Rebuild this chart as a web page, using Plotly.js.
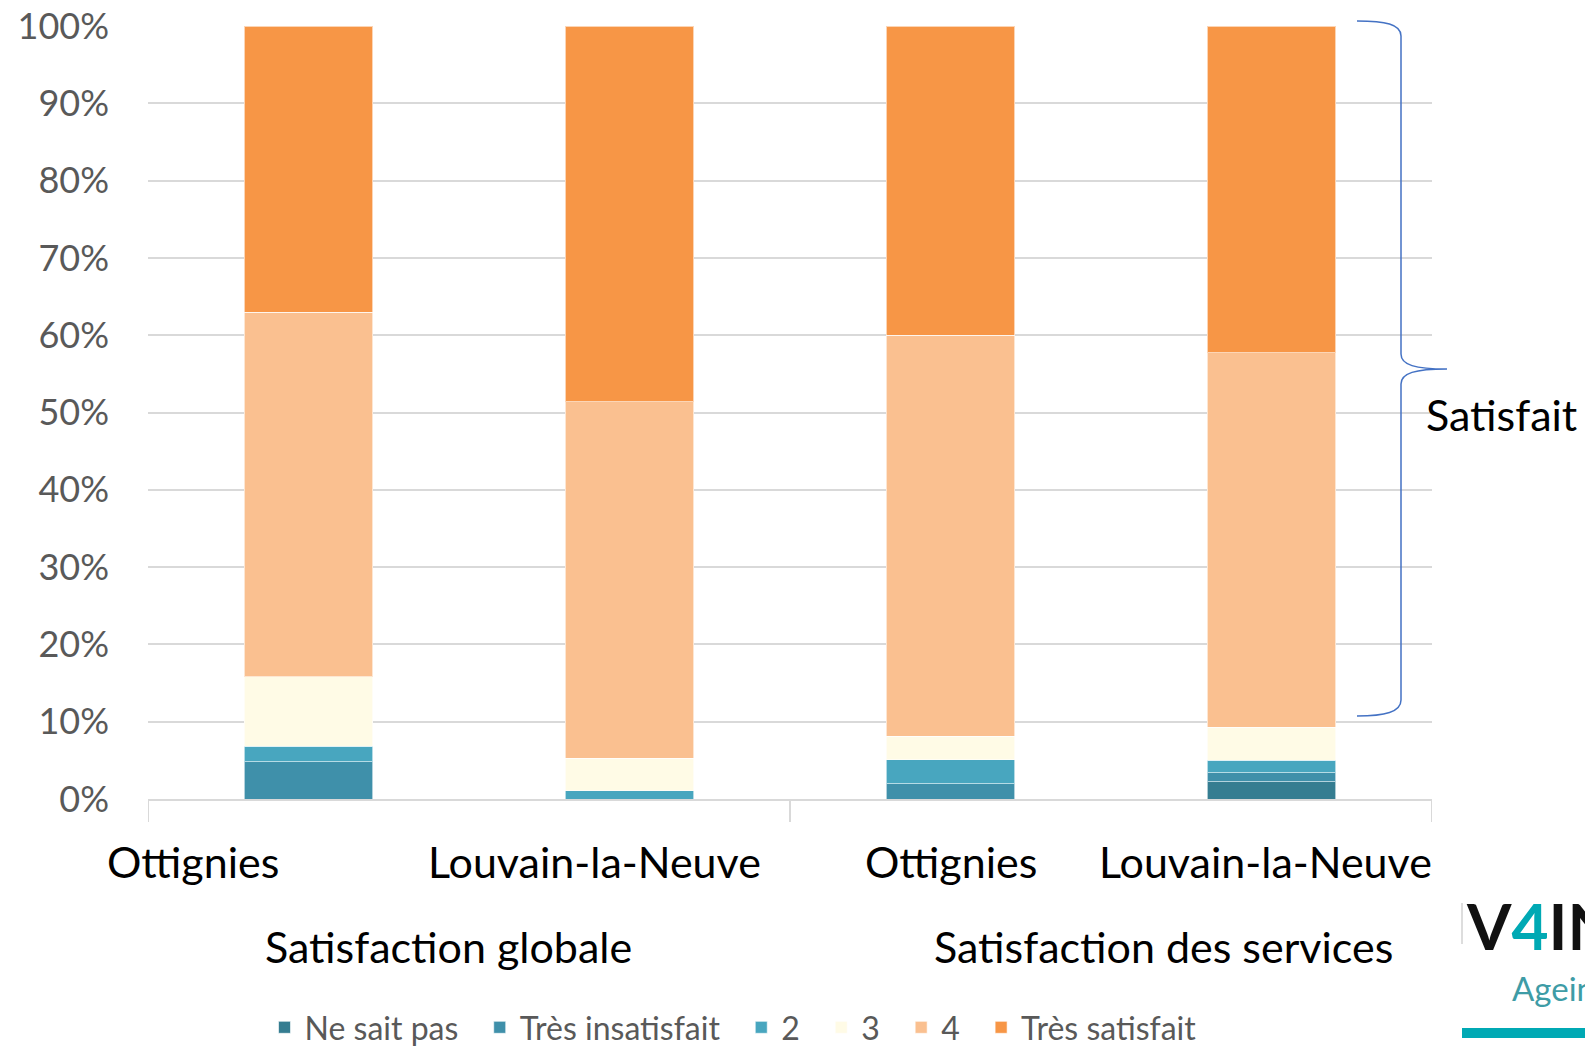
<!DOCTYPE html>
<html>
<head>
<meta charset="utf-8">
<script src="https://cdn.plot.ly/plotly-3.0.1.min.js"></script>
<style>
  html, body { margin: 0; padding: 0; background: #fff; }
  #chart { width: 1585px; height: 1049px; }
</style>
</head>
<body>
<div id="chart"></div>
<script>
/* Chart data (percent of respondents) */
let cities = ["Ottignies", "Louvain-la-Neuve", "Ottignies", "Louvain-la-Neuve"];
let groups = ["Satisfaction globale", "Satisfaction des services"];
let seriesNames = ["Ne sait pas", "Très insatisfait", "2", "3", "4", "Très satisfait"];
let neSaitPas = [0, 0, 0, 2.2];
let tresInsatisfait = [4.8, 0, 2.0, 1.2];
let niveau2 = [2.0, 1.1, 3.1, 1.6];
let niveau3 = [9.0, 4.2, 3.0, 4.3];
let niveau4 = [47.2, 46.1, 51.9, 48.4];
let tresSatisfait = [37.0, 48.6, 40.0, 42.3];
let yTicks = [0, 10, 20, 30, 40, 50, 60, 70, 80, 90, 100];

let colors = ["#357d91", "#3f90aa", "#48a6bf", "#fffbe6", "#fac090", "#f79646"];

// pixel -> paper helpers (plot area is 148..1432 x 26..799)
function px(X) { return (X - 148) / 1284; }
function py(Y) { return (799 - Y) / 773; }

let xPos = cities.map((c, i) => i);
let allSeries = [neSaitPas, tresInsatisfait, niveau2, niveau3, niveau4, tresSatisfait];

// two non-breaking spaces widen the gap between legend entries
let traces = allSeries.map((vals, k) => ({
  type: "bar",
  name: k < seriesNames.length - 1 ? seriesNames[k] + "\u00a0\u00a0" : seriesNames[k],
  x: xPos,
  y: vals,
  width: 0.4,
  marker: { color: colors[k], line: { color: "rgba(255,255,255,0.6)", width: 1 } },
  hoverinfo: "name+y"
}));

// Label offsets (Excel places the city labels a bit off the bar centres)
let cityLabelX = [-0.36, 0.89, 2.0, 2.98];
let groupLabelX = [0.435, 2.663];

let annotations = [];
cities.forEach((c, i) => {
  annotations.push({
    xref: "x", yref: "paper", x: cityLabelX[i], y: py(861),
    text: c, showarrow: false, xanchor: "center", yanchor: "middle",
    font: { family: "Lato, 'Open Sans', sans-serif", size: 43, color: "#000" }
  });
});
groups.forEach((g, i) => {
  annotations.push({
    xref: "x", yref: "paper", x: groupLabelX[i], y: py(947),
    text: g, showarrow: false, xanchor: "center", yanchor: "middle",
    font: { family: "Lato, 'Open Sans', sans-serif", size: 43, color: "#000" }
  });
});
annotations.push({
  xref: "paper", yref: "paper", x: px(1424), y: py(414),
  text: "Satisfait", showarrow: false, xanchor: "left", yanchor: "middle",
  font: { family: "Lato, 'Open Sans', sans-serif", size: 43, color: "#000" }
});
// logo, cut off by the page edge
annotations.push({
  xref: "paper", yref: "paper", x: px(1464), y: py(966),
  text: "V<span style='color:#00a9b4'>4</span>IN",
  showarrow: false, xanchor: "left", yanchor: "bottom",
  font: { family: "Lato, sans-serif", size: 64, weight: 700, color: "#111" }
});
annotations.push({
  xref: "paper", yref: "paper", x: px(1510), y: py(966),
  text: "Ageing", showarrow: false, xanchor: "left", yanchor: "top",
  font: { family: "Lato, sans-serif", size: 33, color: "#3e9ca6" }
});

let shapes = [];
// group dividers under the axis
[-0.5, 1.5, 3.5].forEach(xv => {
  shapes.push({
    type: "line", xref: "x", yref: "paper", x0: xv, x1: xv, y0: 0, y1: py(822),
    line: { color: "#d9d9d9", width: 2 }
  });
});
// curly brace for "Satisfait"
let bx0 = px(1357), bx1 = px(1401), bx2 = px(1447);
let by0 = py(21), byM = py(369), by1 = py(716);
let brace = "M " + bx0 + "," + by0 +
  " C " + px(1385) + "," + by0 + " " + bx1 + "," + py(24) + " " + bx1 + "," + py(36) +
  " L " + bx1 + "," + py(354) +
  " C " + bx1 + "," + py(365) + " " + px(1415) + "," + byM + " " + bx2 + "," + byM +
  " C " + px(1415) + "," + byM + " " + bx1 + "," + py(373) + " " + bx1 + "," + py(384) +
  " L " + bx1 + "," + py(700) +
  " C " + bx1 + "," + py(712) + " " + px(1385) + "," + by1 + " " + bx0 + "," + by1;
shapes.push({
  type: "path", xref: "paper", yref: "paper", path: brace,
  line: { color: "#4472c4", width: 1.5 }
});
// logo bar
shapes.push({
  type: "rect", xref: "paper", yref: "paper",
  x0: px(1462), x1: px(1600), y0: py(1028), y1: py(1038),
  fillcolor: "#00a9b4", line: { width: 0 }
});
shapes.push({
  type: "line", xref: "paper", yref: "paper",
  x0: px(1462), x1: px(1462), y0: py(903), y1: py(944),
  line: { color: "#bbbbbb", width: 1 }
});

let layout = {
  width: 1585,
  height: 1049,
  margin: { l: 148, r: 153, t: 26, b: 250, autoexpand: false },
  barmode: "stack",
  paper_bgcolor: "#fff",
  plot_bgcolor: "#fff",
  font: { family: "Lato, 'Open Sans', sans-serif", color: "#595959" },
  xaxis: {
    range: [-0.5, 3.5],
    showticklabels: false,
    showgrid: false,
    zeroline: false,
    showline: true,
    linecolor: "#d9d9d9",
    linewidth: 2,
    ticks: ""
  },
  yaxis: {
    range: [0, 100],
    tickvals: yTicks,
    ticktext: yTicks.map(v => v + "%"),
    showgrid: true,
    gridcolor: "#d9d9d9",
    gridwidth: 2,
    zeroline: false,
    showline: false,
    ticks: "",
    ticklabelstandoff: 38,
    tickfont: { size: 36, color: "#595959" }
  },
  legend: {
    orientation: "h",
    x: px(733), xanchor: "center",
    y: py(1055), yanchor: "bottom",
    traceorder: "normal",
    font: { size: 32, color: "#595959" },
    itemwidth: 30,
    tracegroupgap: 0
  },
  annotations: annotations,
  shapes: shapes,
  showlegend: true
};

Plotly.newPlot("chart", traces, layout, { displayModeBar: false, staticPlot: true });
</script>
</body>
</html>
